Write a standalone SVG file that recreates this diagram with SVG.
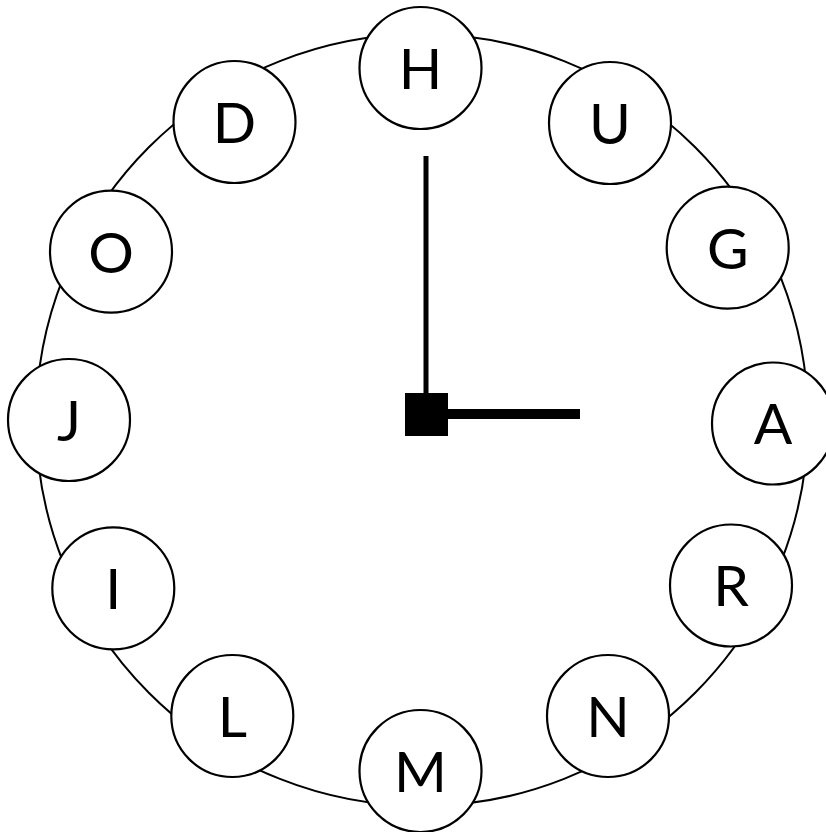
<svg xmlns="http://www.w3.org/2000/svg" width="826" height="832" viewBox="0 0 826 832">
<style>
.ring{fill:none;stroke:#000;stroke-width:2}
.node circle{fill:#fff;stroke:#000;stroke-width:2.2}
.node text{font-family:Lato,"Liberation Sans",sans-serif;font-weight:400;font-size:57px;fill:#000;text-anchor:middle}
</style>
<rect width="826" height="832" fill="#fff"/>
<g id="connectors">
<circle class="ring" cx="422" cy="420" r="386"/>
<line x1="426" y1="156" x2="426" y2="414" stroke="#000" stroke-width="5"/>
<line x1="426" y1="414" x2="580" y2="414" stroke="#000" stroke-width="10"/>
<rect x="405" y="393" width="43" height="43" fill="#000"/>
</g>
<g id="node-H" class="node"><circle cx="420.5" cy="68" r="61"/><text x="420.5" y="89">H</text></g>
<g id="node-U" class="node"><circle cx="610" cy="123" r="61"/><text x="610" y="144">U</text></g>
<g id="node-G" class="node"><circle cx="727.7" cy="247.7" r="61"/><text x="727.7" y="268.5">G</text></g>
<g id="node-A" class="node"><circle cx="773" cy="423.5" r="61"/><text x="773" y="444">A</text></g>
<g id="node-R" class="node"><circle cx="731" cy="585.5" r="61"/><text x="731" y="606">R</text></g>
<g id="node-N" class="node"><circle cx="608" cy="716" r="61"/><text x="608" y="737">N</text></g>
<g id="node-M" class="node"><circle cx="420.5" cy="771" r="61"/><text x="420.5" y="792">M</text></g>
<g id="node-L" class="node"><circle cx="232.3" cy="716" r="61"/><text x="232.3" y="737">L</text></g>
<g id="node-I" class="node"><circle cx="113.3" cy="588.3" r="61"/><text x="113.3" y="609">I</text></g>
<g id="node-J" class="node"><circle cx="69" cy="420" r="61"/><text x="69" y="441">J</text></g>
<g id="node-O" class="node"><circle cx="111" cy="251.7" r="61"/><text x="111" y="272.5">O</text></g>
<g id="node-D" class="node"><circle cx="234.5" cy="122" r="61"/><text x="234.5" y="143">D</text></g>
</svg>
